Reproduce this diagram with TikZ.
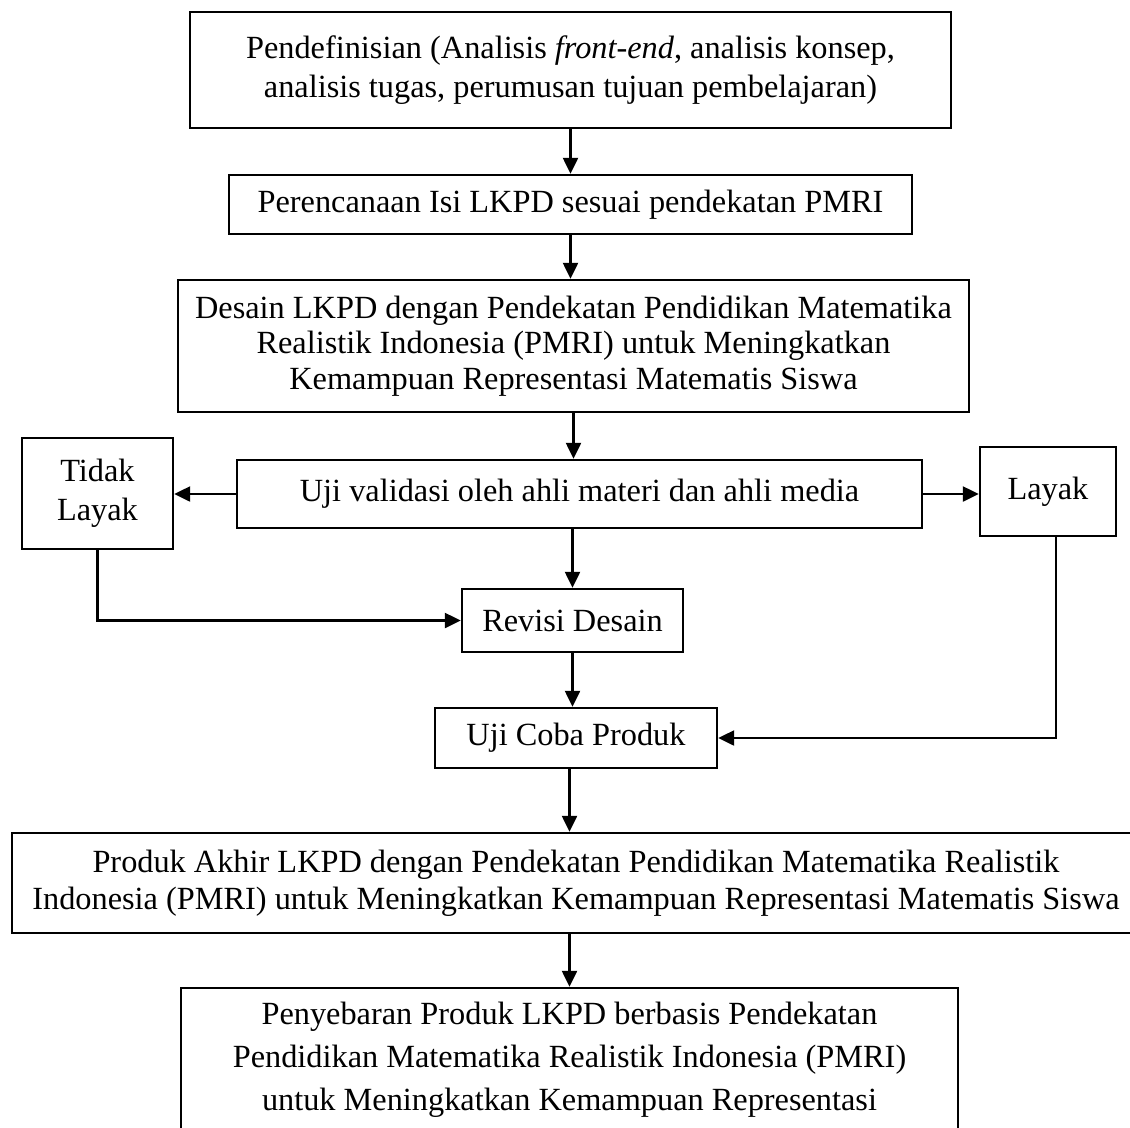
\documentclass[tikz,border=0pt]{standalone}
\usepackage{fontspec}
\setmainfont{Liberation Serif}
\usetikzlibrary{arrows.meta}

\newcommand{\pxu}{0.02cm}

\tikzset{
  kotak/.style={draw, line width=1.4pt, align=center, inner sep=0pt,
    font={\fontsize{18.4}{22}\selectfont}},
  panah/.style={line width=1.4pt, -{Triangle[length=0.32cm,width=0.3cm]}},
}

\begin{document}
\begin{tikzpicture}[x=0.02cm, y=-0.02cm]
\useasboundingbox (0,0) rectangle (1130,1127);

% alur utama
\node[kotak, minimum width=761*\pxu, minimum height=116*\pxu] (def) at (570.5,70)
  {Pendefinisian (Analisis \textit{front-end}, analisis konsep,\\ analisis tugas, perumusan tujuan pembelajaran)};
\node[kotak, minimum width=683*\pxu, minimum height=59*\pxu] (ren) at (570.5,204.5)
  {Perencanaan Isi LKPD sesuai pendekatan PMRI};
\node[kotak, minimum width=791*\pxu, minimum height=132*\pxu,
  font={\fontsize{18.4}{20.3}\selectfont}] (des) at (573.5,346)
  {Desain LKPD dengan Pendekatan Pendidikan Matematika\\ Realistik Indonesia (PMRI) untuk Meningkatkan\\ Kemampuan Representasi Matematis Siswa};
\node[kotak, minimum width=685*\pxu, minimum height=68*\pxu] (uji) at (579.5,494)
  {Uji validasi oleh ahli materi dan ahli media};
\node[kotak, minimum width=151*\pxu, minimum height=111*\pxu] (tdk) at (97.5,493.5)
  {Tidak\\ Layak};
\node[kotak, minimum width=136*\pxu, minimum height=89*\pxu] (lyk) at (1048,491.5)
  {Layak};
\node[kotak, minimum width=221*\pxu, minimum height=63*\pxu] (rev) at (572.5,620.5)
  {Revisi Desain};
\node[kotak, minimum width=282*\pxu, minimum height=60*\pxu] (coba) at (576,738)
  {Uji Coba Produk};
\node[kotak, minimum width=1128*\pxu, minimum height=100*\pxu,
  font={\fontsize{18.4}{21}\selectfont}] (akhir) at (576,883)
  {Produk Akhir LKPD dengan Pendekatan Pendidikan Matematika Realistik\\ Indonesia (PMRI) untuk Meningkatkan Kemampuan Representasi Matematis Siswa};
\node[kotak, minimum width=777*\pxu, minimum height=144*\pxu,
  font={\fontsize{18.4}{24.4}\selectfont}] (sebar) at (569.5,1060)
  {Penyebaran Produk LKPD berbasis Pendekatan\\ Pendidikan Matematika Realistik Indonesia (PMRI)\\ untuk Meningkatkan Kemampuan Representasi};

% panah
\draw[panah] (def.south) -- (def.south |- ren.north);
\draw[panah] (ren.south) -- (ren.south |- des.north);
\draw[panah] (des.south) -- (des.south |- uji.north);
\draw[panah] (uji.west) -- (uji.west -| tdk.east);
\draw[panah] (uji.east) -- (uji.east -| lyk.west);
\draw[panah] (rev.north |- uji.south) -- (rev.north);
\draw[panah] (tdk.south) |- (rev.west);
\draw[panah] (rev.south) -- (rev.south |- coba.north);
\draw[panah] ([xshift=8*\pxu]lyk.south) |- (coba.east);
\draw[panah] (sebar.north |- coba.south) -- (sebar.north |- akhir.north);
\draw[panah] (akhir.south -| sebar.north) -- (sebar.north);
\end{tikzpicture}
\end{document}
